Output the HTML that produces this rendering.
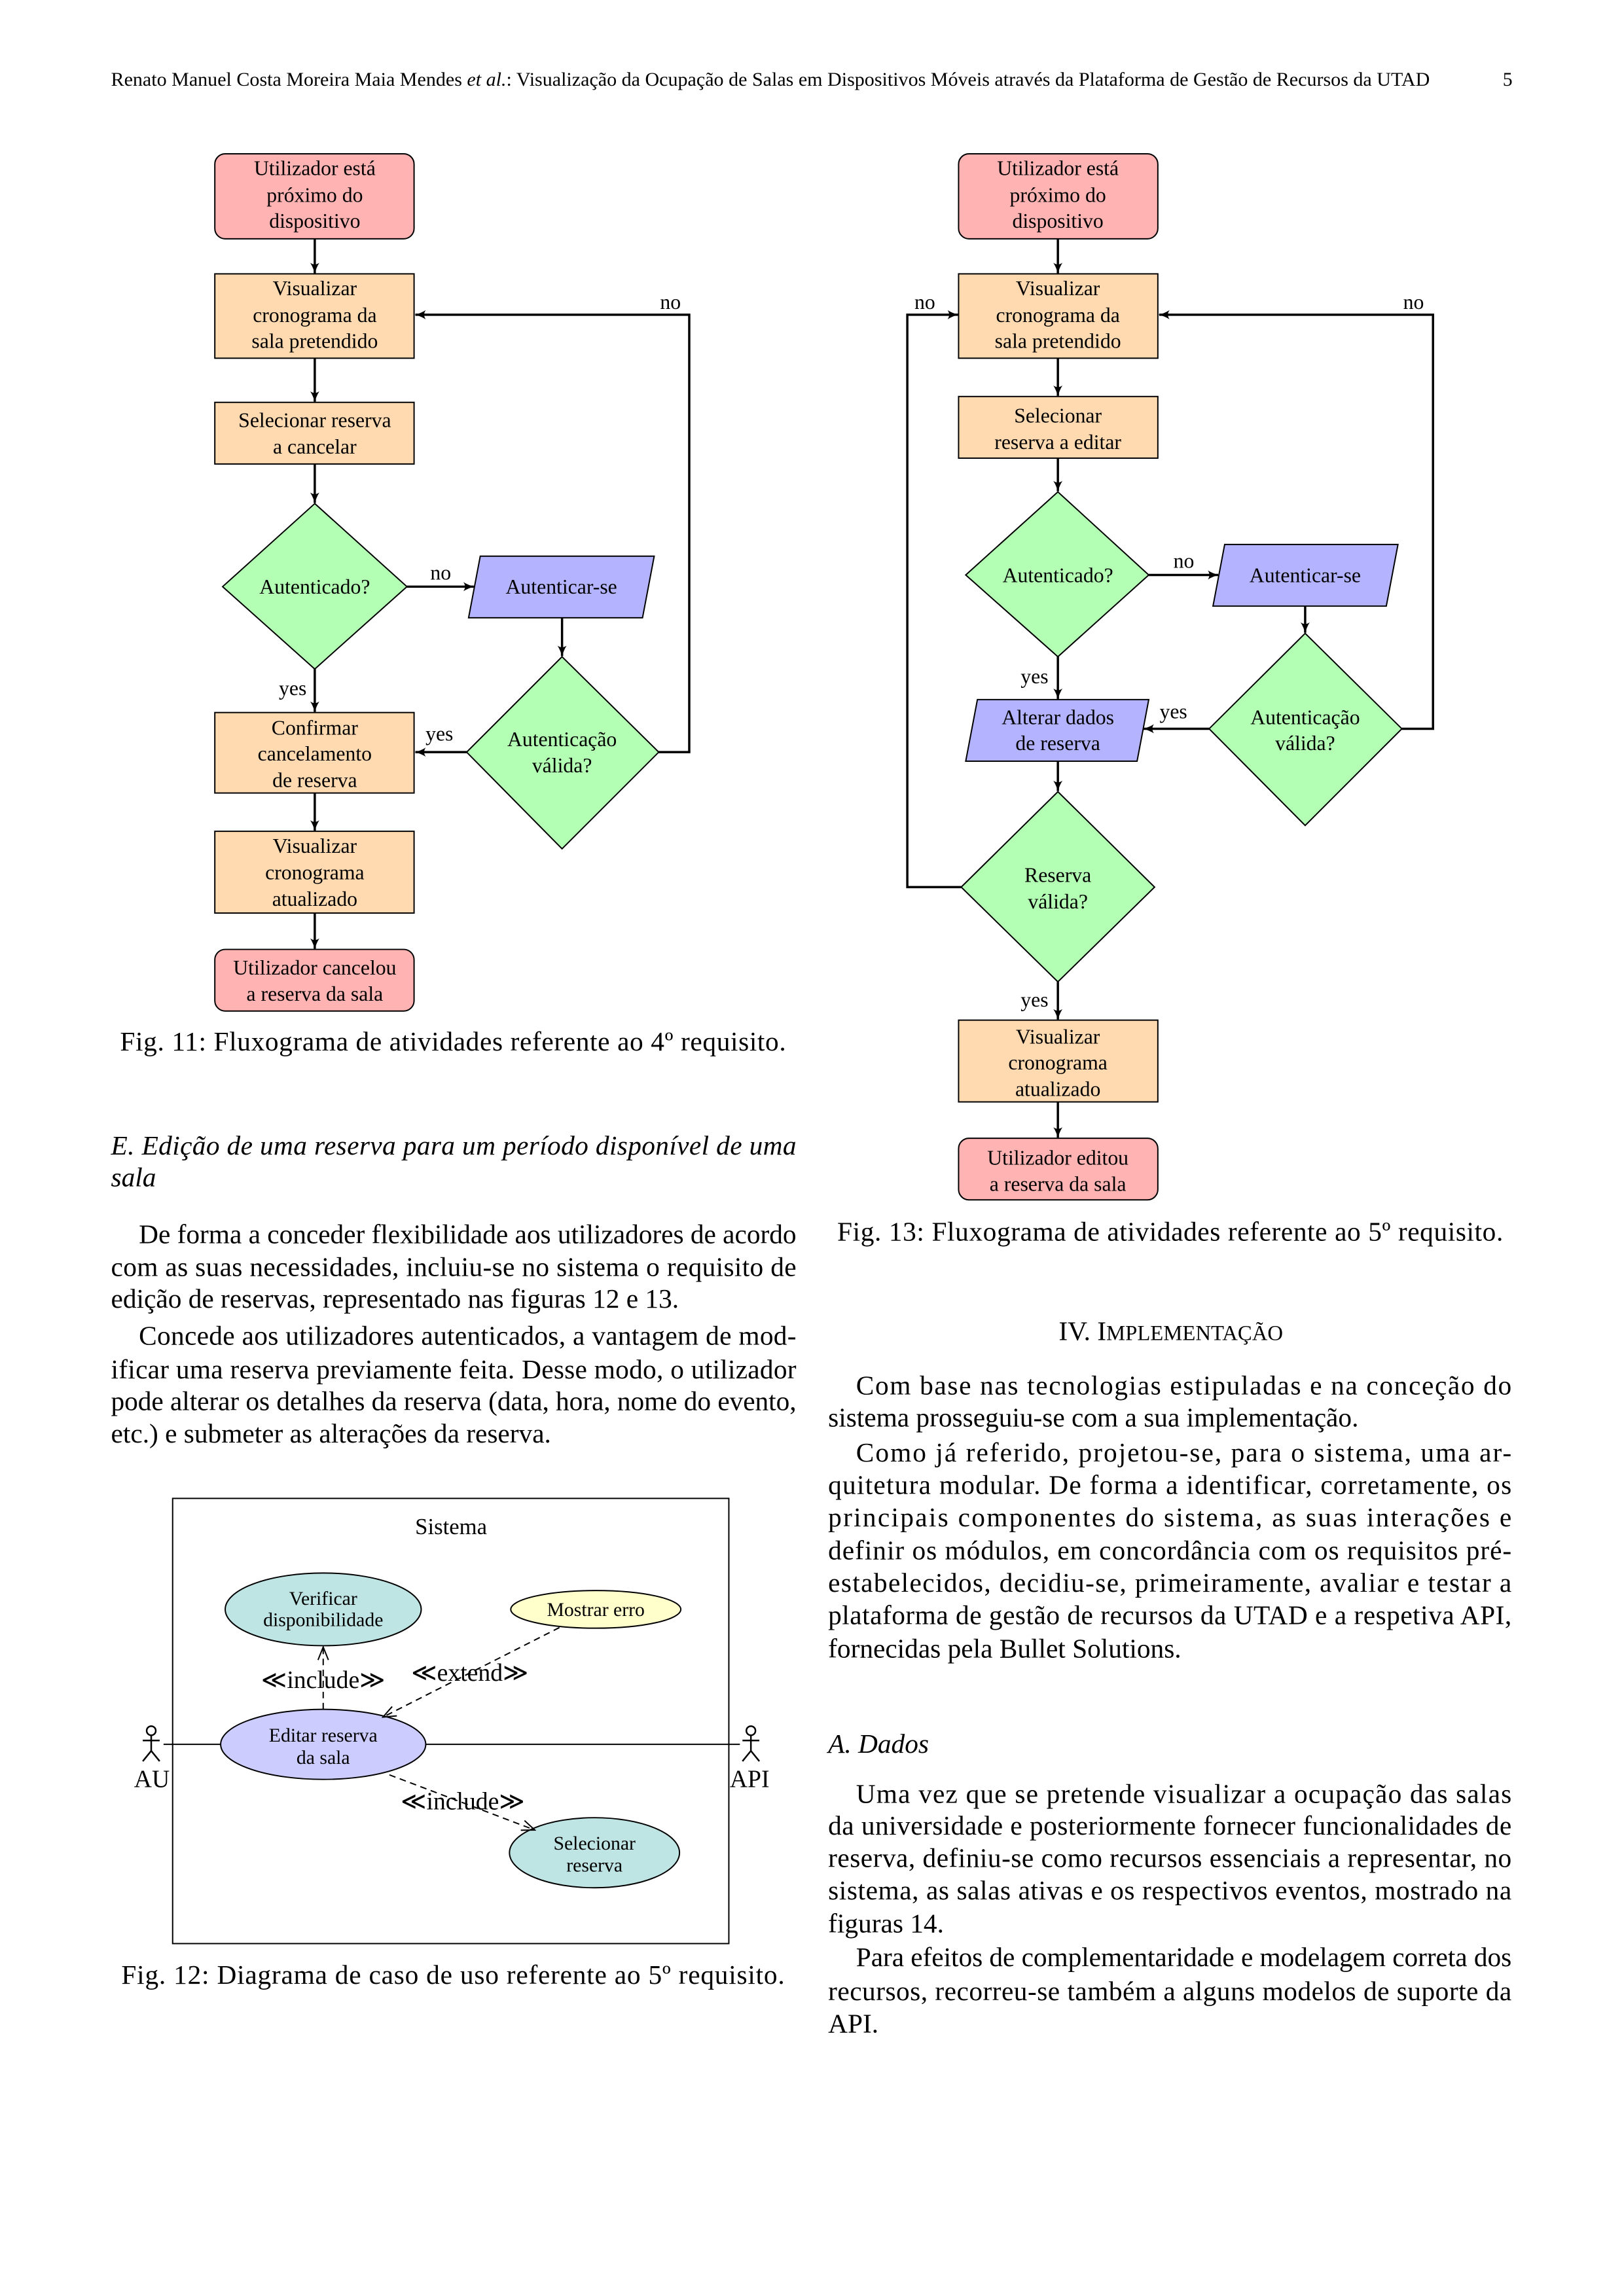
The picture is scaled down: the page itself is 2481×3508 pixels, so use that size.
<!DOCTYPE html>
<html><head><meta charset="utf-8"><style>
html,body{margin:0;padding:0;background:#fff;}
svg{display:block;}
text{font-family:"Liberation Serif",serif;fill:#000;}
</style></head><body>
<svg width="2481" height="3508" viewBox="0 0 2481 3508" xmlns="http://www.w3.org/2000/svg">
<defs>
<marker id="ar" viewBox="0 0 20 20" refX="18" refY="10" markerWidth="20" markerHeight="20" markerUnits="userSpaceOnUse" orient="auto">
<path d="M2,3 Q10,8 19,10 Q10,12 2,17 Q7,10 2,3 Z" fill="#000"/>
</marker>
<marker id="oa" viewBox="0 0 24 24" refX="22" refY="12" markerWidth="24" markerHeight="24" markerUnits="userSpaceOnUse" orient="auto">
<path d="M2,4 L22,12 L2,20" fill="none" stroke="#000" stroke-width="2"/>
</marker>
</defs>
<g transform="scale(0.9915)">
<!-- header -->
<text x="171" y="132" font-size="30" textLength="2032" lengthAdjust="spacingAndGlyphs">Renato Manuel Costa Moreira Maia Mendes <tspan font-style="italic">et al.</tspan>: Visualização da Ocupação de Salas em Dispositivos Móveis através da Plataforma de Gestão de Recursos da UTAD</text>
<text x="2323" y="132" font-size="30" text-anchor="middle">5</text>

<!-- ===== Fig 11 ===== -->
<g stroke="#000" stroke-width="2" font-size="32">
<rect x="331" y="237" width="307" height="131" rx="16" fill="#ffb3b3"/>
<rect x="331" y="422" width="307" height="130" fill="#ffdab0"/>
<rect x="331" y="620" width="307" height="95" fill="#ffdab0"/>
<polygon points="485,776 627,904 485,1031 343,904" fill="#b3ffb3"/>
<polygon points="740,857 1008,857 990,952 722,952" fill="#b3b3ff"/>
<polygon points="866,1012 1015,1159 866,1308 719,1159" fill="#b3ffb3"/>
<rect x="331" y="1098" width="307" height="124" fill="#ffdab0"/>
<rect x="331" y="1281" width="307" height="126" fill="#ffdab0"/>
<rect x="331" y="1463" width="307" height="95" rx="16" fill="#ffb3b3"/>
</g>
<g stroke="#000" stroke-width="3.5" fill="none" marker-end="url(#ar)">
<line x1="485" y1="368" x2="485" y2="421"/>
<line x1="485" y1="552" x2="485" y2="619"/>
<line x1="485" y1="715" x2="485" y2="775"/>
<line x1="627" y1="904" x2="730" y2="904"/>
<line x1="866" y1="952" x2="866" y2="1011"/>
<line x1="485" y1="1031" x2="485" y2="1097"/>
<line x1="719" y1="1159" x2="640" y2="1159"/>
<polyline points="1015,1159 1062,1159 1062,485 640,485"/>
<line x1="485" y1="1222" x2="485" y2="1280"/>
<line x1="485" y1="1407" x2="485" y2="1462"/>
</g>
<g font-size="32" text-anchor="middle">
<text x="485" y="270">Utilizador está</text>
<text x="485" y="311">próximo do</text>
<text x="485" y="351">dispositivo</text>
<text x="485" y="455">Visualizar</text>
<text x="485" y="496">cronograma da</text>
<text x="485" y="536">sala pretendido</text>
<text x="485" y="658">Selecionar reserva</text>
<text x="485" y="699">a cancelar</text>
<text x="485" y="915">Autenticado?</text>
<text x="865" y="915">Autenticar-se</text>
<text x="866" y="1150">Autenticação</text>
<text x="866" y="1190">válida?</text>
<text x="485" y="1132">Confirmar</text>
<text x="485" y="1172">cancelamento</text>
<text x="485" y="1213">de reserva</text>
<text x="485" y="1314">Visualizar</text>
<text x="485" y="1355">cronograma</text>
<text x="485" y="1396">atualizado</text>
<text x="485" y="1502">Utilizador cancelou</text>
<text x="485" y="1542">a reserva da sala</text>
<text x="1033" y="476">no</text>
<text x="679" y="893">no</text>
<text x="451" y="1071">yes</text>
<text x="677" y="1141">yes</text>
</g>
<text x="698" y="1619" font-size="41.7" text-anchor="middle" textLength="1026" lengthAdjust="spacing">Fig. 11: Fluxograma de atividades referente ao 4º requisito.</text>

<!-- ===== Fig 13 ===== -->
<g stroke="#000" stroke-width="2">
<rect x="1477" y="237" width="307" height="131" rx="16" fill="#ffb3b3"/>
<rect x="1477" y="422" width="307" height="130" fill="#ffdab0"/>
<rect x="1477" y="611" width="307" height="95" fill="#ffdab0"/>
<polygon points="1630,758 1770,886 1630,1012 1488,886" fill="#b3ffb3"/>
<polygon points="1887,839 2154,839 2136,934 1869,934" fill="#b3b3ff"/>
<polygon points="2011,976 2160,1123 2011,1272 1863,1123" fill="#b3ffb3"/>
<polygon points="1506,1078 1770,1078 1752,1173 1488,1173" fill="#b3b3ff"/>
<polygon points="1630,1220 1779,1367 1630,1513 1481,1367" fill="#b3ffb3"/>
<rect x="1477" y="1572" width="307" height="126" fill="#ffdab0"/>
<rect x="1477" y="1754" width="307" height="95" rx="16" fill="#ffb3b3"/>
</g>
<g stroke="#000" stroke-width="3.5" fill="none" marker-end="url(#ar)">
<line x1="1630" y1="368" x2="1630" y2="421"/>
<line x1="1630" y1="552" x2="1630" y2="610"/>
<line x1="1630" y1="706" x2="1630" y2="757"/>
<line x1="1770" y1="886" x2="1877" y2="886"/>
<line x1="2011" y1="934" x2="2011" y2="975"/>
<line x1="1630" y1="1012" x2="1630" y2="1077"/>
<line x1="1863" y1="1123" x2="1762" y2="1123"/>
<line x1="1630" y1="1173" x2="1630" y2="1219"/>
<polyline points="1481,1367 1398,1367 1398,485 1476,485"/>
<polyline points="2160,1123 2208,1123 2208,485 1786,485"/>
<line x1="1630" y1="1513" x2="1630" y2="1571"/>
<line x1="1630" y1="1698" x2="1630" y2="1753"/>
</g>
<g font-size="32" text-anchor="middle">
<text x="1630" y="270">Utilizador está</text>
<text x="1630" y="311">próximo do</text>
<text x="1630" y="351">dispositivo</text>
<text x="1630" y="455">Visualizar</text>
<text x="1630" y="496">cronograma da</text>
<text x="1630" y="536">sala pretendido</text>
<text x="1630" y="651">Selecionar</text>
<text x="1630" y="692">reserva a editar</text>
<text x="1630" y="897">Autenticado?</text>
<text x="2011" y="897">Autenticar-se</text>
<text x="2011" y="1116">Autenticação</text>
<text x="2011" y="1156">válida?</text>
<text x="1630" y="1116">Alterar dados</text>
<text x="1630" y="1156">de reserva</text>
<text x="1630" y="1359">Reserva</text>
<text x="1630" y="1400">válida?</text>
<text x="1630" y="1608">Visualizar</text>
<text x="1630" y="1648">cronograma</text>
<text x="1630" y="1689">atualizado</text>
<text x="1630" y="1795">Utilizador editou</text>
<text x="1630" y="1835">a reserva da sala</text>
<text x="1425" y="476">no</text>
<text x="2178" y="476">no</text>
<text x="1824" y="875">no</text>
<text x="1594" y="1053">yes</text>
<text x="1808" y="1107">yes</text>
<text x="1594" y="1551">yes</text>
</g>
<text x="1803" y="1912" font-size="41.7" text-anchor="middle" textLength="1026" lengthAdjust="spacing">Fig. 13: Fluxograma de atividades referente ao 5º requisito.</text>

<!-- ===== Left text ===== -->
<g font-size="41.7">
<text x="171" y="1779" font-style="italic" textLength="1056" lengthAdjust="spacing">E.  Edição de uma reserva para um período disponível de uma</text>
<text x="171" y="1828" font-style="italic">sala</text>
<text x="214" y="1916" textLength="1013" lengthAdjust="spacing">De forma a conceder flexibilidade aos utilizadores de acordo</text>
<text x="171" y="1966" textLength="1056" lengthAdjust="spacing">com as suas necessidades, incluiu-se no sistema o requisito de</text>
<text x="171" y="2015">edição de reservas, representado nas figuras 12 e 13.</text>
<text x="214" y="2072" textLength="1013" lengthAdjust="spacing">Concede aos utilizadores autenticados, a vantagem de mod-</text>
<text x="171" y="2124" textLength="1056" lengthAdjust="spacing">ificar uma reserva previamente feita. Desse modo, o utilizador</text>
<text x="171" y="2173" textLength="1056" lengthAdjust="spacing">pode alterar os detalhes da reserva (data, hora, nome do evento,</text>
<text x="171" y="2223">etc.) e submeter as alterações da reserva.</text>
</g>

<!-- ===== Fig 12 ===== -->
<rect x="266" y="2309" width="857" height="686" fill="none" stroke="#000" stroke-width="2"/>
<text x="695" y="2364" font-size="35" text-anchor="middle">Sistema</text>
<g stroke="#000" stroke-width="2">
<line x1="252" y1="2688" x2="340" y2="2688"/>
<line x1="656" y1="2688" x2="1140" y2="2688"/>
<ellipse cx="498" cy="2480" rx="151" ry="56" fill="#bfe4e4"/>
<ellipse cx="918" cy="2480" rx="131" ry="29" fill="#ffffcc"/>
<ellipse cx="498" cy="2688" rx="158" ry="54" fill="#ccccff"/>
<ellipse cx="916" cy="2855" rx="131" ry="54" fill="#bfe4e4"/>
</g>
<g stroke="#000" stroke-width="2.5" fill="none">
<circle cx="233" cy="2667" r="7"/>
<line x1="233" y1="2674" x2="233" y2="2698"/>
<line x1="220" y1="2682" x2="246" y2="2682"/>
<polyline points="220,2714 233,2698 246,2714"/>
<circle cx="1157" cy="2667" r="7"/>
<line x1="1157" y1="2674" x2="1157" y2="2698"/>
<line x1="1144" y1="2682" x2="1170" y2="2682"/>
<polyline points="1144,2714 1157,2698 1170,2714"/>
</g>
<g stroke="#000" stroke-width="2" fill="none" stroke-dasharray="10,7" >
<line x1="498" y1="2634" x2="498" y2="2538" marker-end="url(#oa)"/>
<line x1="862" y1="2508" x2="590" y2="2646" marker-end="url(#oa)"/>
<line x1="600" y1="2735" x2="824" y2="2820" marker-end="url(#oa)"/>
</g>
<g font-size="30" text-anchor="middle">
<text x="498" y="2473">Verificar</text>
<text x="498" y="2506">disponibilidade</text>
<text x="918" y="2490">Mostrar erro</text>
<text x="498" y="2684">Editar reserva</text>
<text x="498" y="2718">da sala</text>
<text x="916" y="2850">Selecionar</text>
<text x="916" y="2884">reserva</text>
</g>
<g font-size="38" text-anchor="middle">
<text x="498" y="2601">≪include≫</text>
<text x="724" y="2590">≪extend≫</text>
<text x="713" y="2788">≪include≫</text>
<text x="234" y="2754">AU</text>
<text x="1155" y="2754">API</text>
</g>
<text x="698" y="3057" font-size="41.7" text-anchor="middle" textLength="1022" lengthAdjust="spacing">Fig. 12: Diagrama de caso de uso referente ao 5º requisito.</text>

<!-- ===== Right text ===== -->
<g font-size="41.7">
<text x="1804" y="2065" text-anchor="middle">IV. I<tspan font-size="33">MPLEMENTAÇÃO</tspan></text>
<text x="1319" y="2149" textLength="1010" lengthAdjust="spacing">Com base nas tecnologias estipuladas e na conceção do</text>
<text x="1276" y="2198">sistema prosseguiu-se com a sua implementação.</text>
<text x="1319" y="2252" textLength="1010" lengthAdjust="spacing">Como já referido, projetou-se, para o sistema, uma ar-</text>
<text x="1276" y="2302" textLength="1053" lengthAdjust="spacing">quitetura modular. De forma a identificar, corretamente, os</text>
<text x="1276" y="2352" textLength="1053" lengthAdjust="spacing">principais componentes do sistema, as suas interações e</text>
<text x="1276" y="2403" textLength="1053" lengthAdjust="spacing">definir os módulos, em concordância com os requisitos pré-</text>
<text x="1276" y="2453" textLength="1053" lengthAdjust="spacing">estabelecidos, decidiu-se, primeiramente, avaliar e testar a</text>
<text x="1276" y="2503" textLength="1053" lengthAdjust="spacing">plataforma de gestão de recursos da UTAD e a respetiva API,</text>
<text x="1276" y="2554">fornecidas pela Bullet Solutions.</text>
<text x="1276" y="2701" font-style="italic">A.  Dados</text>
<text x="1319" y="2778" textLength="1010" lengthAdjust="spacing">Uma vez que se pretende visualizar a ocupação das salas</text>
<text x="1276" y="2827" textLength="1053" lengthAdjust="spacing">da universidade e posteriormente fornecer funcionalidades de</text>
<text x="1276" y="2877" textLength="1053" lengthAdjust="spacing">reserva, definiu-se como recursos essenciais a representar, no</text>
<text x="1276" y="2927" textLength="1053" lengthAdjust="spacing">sistema, as salas ativas e os respectivos eventos, mostrado na</text>
<text x="1276" y="2978">figuras 14.</text>
<text x="1319" y="3030" textLength="1010" lengthAdjust="spacing">Para efeitos de complementaridade e modelagem correta dos</text>
<text x="1276" y="3082" textLength="1053" lengthAdjust="spacing">recursos, recorreu-se também a alguns modelos de suporte da</text>
<text x="1276" y="3132">API.</text>
</g>
</g>
</svg>
</body></html>
